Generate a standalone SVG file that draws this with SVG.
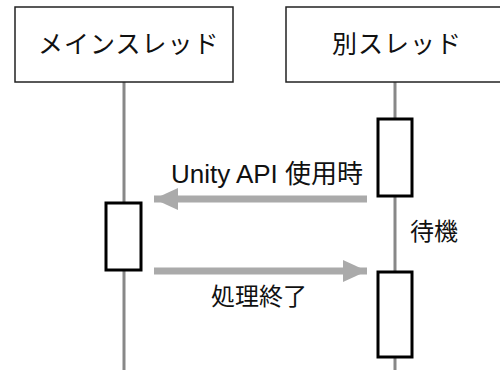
<svg xmlns="http://www.w3.org/2000/svg" width="500" height="370" viewBox="0 0 500 370">
<style>
.hdr{fill:#fff;stroke:#222;stroke-width:1.5}
.life{stroke:#888;stroke-width:3}
.act{fill:#fff;stroke:#000;stroke-width:3}
.msg{stroke:#aaa;stroke-width:7;fill:none}
.t{font-family:"Liberation Sans","Noto Sans CJK JP",sans-serif;fill:#111}
.h{font-size:25px;letter-spacing:1px}
.l{font-size:24px}
.u{font-size:26px}
</style>
<defs>
<marker id="ah" markerUnits="userSpaceOnUse" markerWidth="24" markerHeight="22" refX="24" refY="11" orient="auto">
<path d="M0,0 L24,11 L0,22 Z" fill="#aaa"/>
</marker>
</defs>
<g id="lifelines">
<line class="life" x1="124" y1="82" x2="124" y2="370"/>
<line class="life" x1="395" y1="82" x2="395" y2="370"/>
</g>
<g id="main">
<rect class="hdr" x="15" y="7" width="218" height="75"/>
<text class="t h" x="38" y="53">メインスレッド</text>
</g>
<g id="other">
<rect class="hdr" x="286" y="7" width="230" height="75"/>
<text class="t h" x="332" y="53">別スレッド</text>
</g>
<g id="act1"><rect class="act" x="378" y="119" width="34" height="77"/></g>
<g id="act2"><rect class="act" x="106" y="203" width="35" height="67"/></g>
<g id="act3"><rect class="act" x="378" y="272" width="34" height="85"/></g>
<g id="connectors">
<line class="msg" x1="367" y1="199" x2="154" y2="199" marker-end="url(#ah)"/>
<line class="msg" x1="154" y1="271" x2="367" y2="271" marker-end="url(#ah)"/>
</g>
<g id="labels">
<text class="t u" x="267" y="183" text-anchor="middle">Unity API 使用時</text>
<text class="t l" x="410" y="240">待機</text>
<text class="t l" x="259" y="305" text-anchor="middle">処理終了</text>
</g>
</svg>
